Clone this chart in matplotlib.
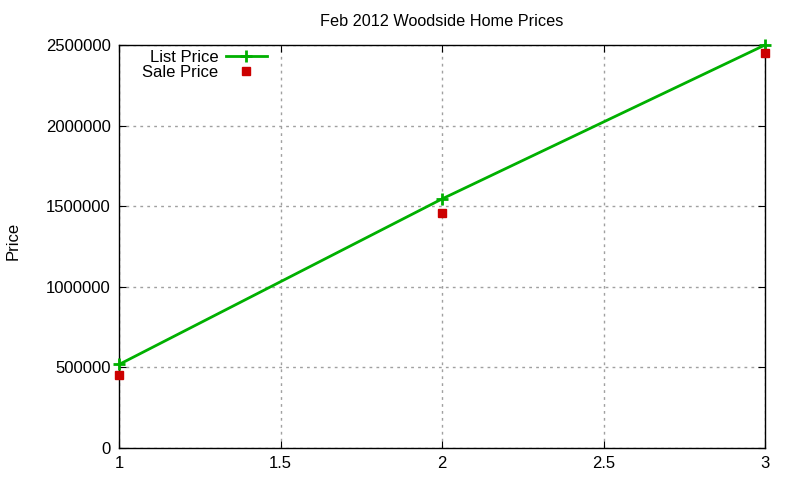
import matplotlib
matplotlib.use('Agg')
import matplotlib.pyplot as plt

# data
houses = [1, 2, 3]
list_price = [518000, 1545000, 2500000]
sale_price = [453000, 1460000, 2452000]
x_ticks = [1, 1.5, 2, 2.5, 3]
x_tick_labels = ['1', '1.5', '2', '2.5', '3']
y_ticks = [0, 500000, 1000000, 1500000, 2000000, 2500000]

plt.rcParams['font.family'] = ['Liberation Sans', 'DejaVu Sans']

fig = plt.figure(figsize=(8, 4.8), dpi=100)
ax = fig.add_axes([119 / 800, 1 - 448 / 480, (765 - 119) / 800, (448 - 45) / 480])

ax.plot(houses, list_price, color='#00b000', linewidth=2, marker='+',
        markersize=9, markeredgewidth=2, label='List Price', clip_on=False, zorder=3)
ax.plot(houses, sale_price, color='#cc0000', linestyle='none', marker='s',
        markersize=6, label='Sale Price', clip_on=False, zorder=3)

ax.set_xlim(1, 3)
ax.set_ylim(0, 2500000)
ax.set_xticks(x_ticks)
ax.set_xticklabels(x_tick_labels)
ax.set_yticks(y_ticks)
ax.set_yticklabels([str(v) for v in y_ticks])
ax.tick_params(direction='in', top=True, right=True, labelsize=12, length=5, pad=6)
ax.grid(True, color='#a0a0a0', linestyle=(0, (2, 3)), linewidth=1)
for s in ax.spines.values():
    s.set_linewidth(1)

ax.set_title('Feb 2012 Woodside Home Prices', fontsize=11.7, pad=14)
ax.set_ylabel('Price', fontsize=12)
ax.yaxis.set_label_coords(-(119 - 21) / 646, 0.5 + 6 / 403)

leg = ax.legend(loc='upper left', bbox_to_anchor=((142 - 119) / 646, 1 - 5 / 403), frameon=False,
                markerfirst=False, fontsize=12, handlelength=2.5,
                handletextpad=0.45, labelspacing=0.0, borderaxespad=0, borderpad=0)
for t in leg.get_texts():
    t.set_ha('right')

fig.savefig('out.png', dpi=100)
